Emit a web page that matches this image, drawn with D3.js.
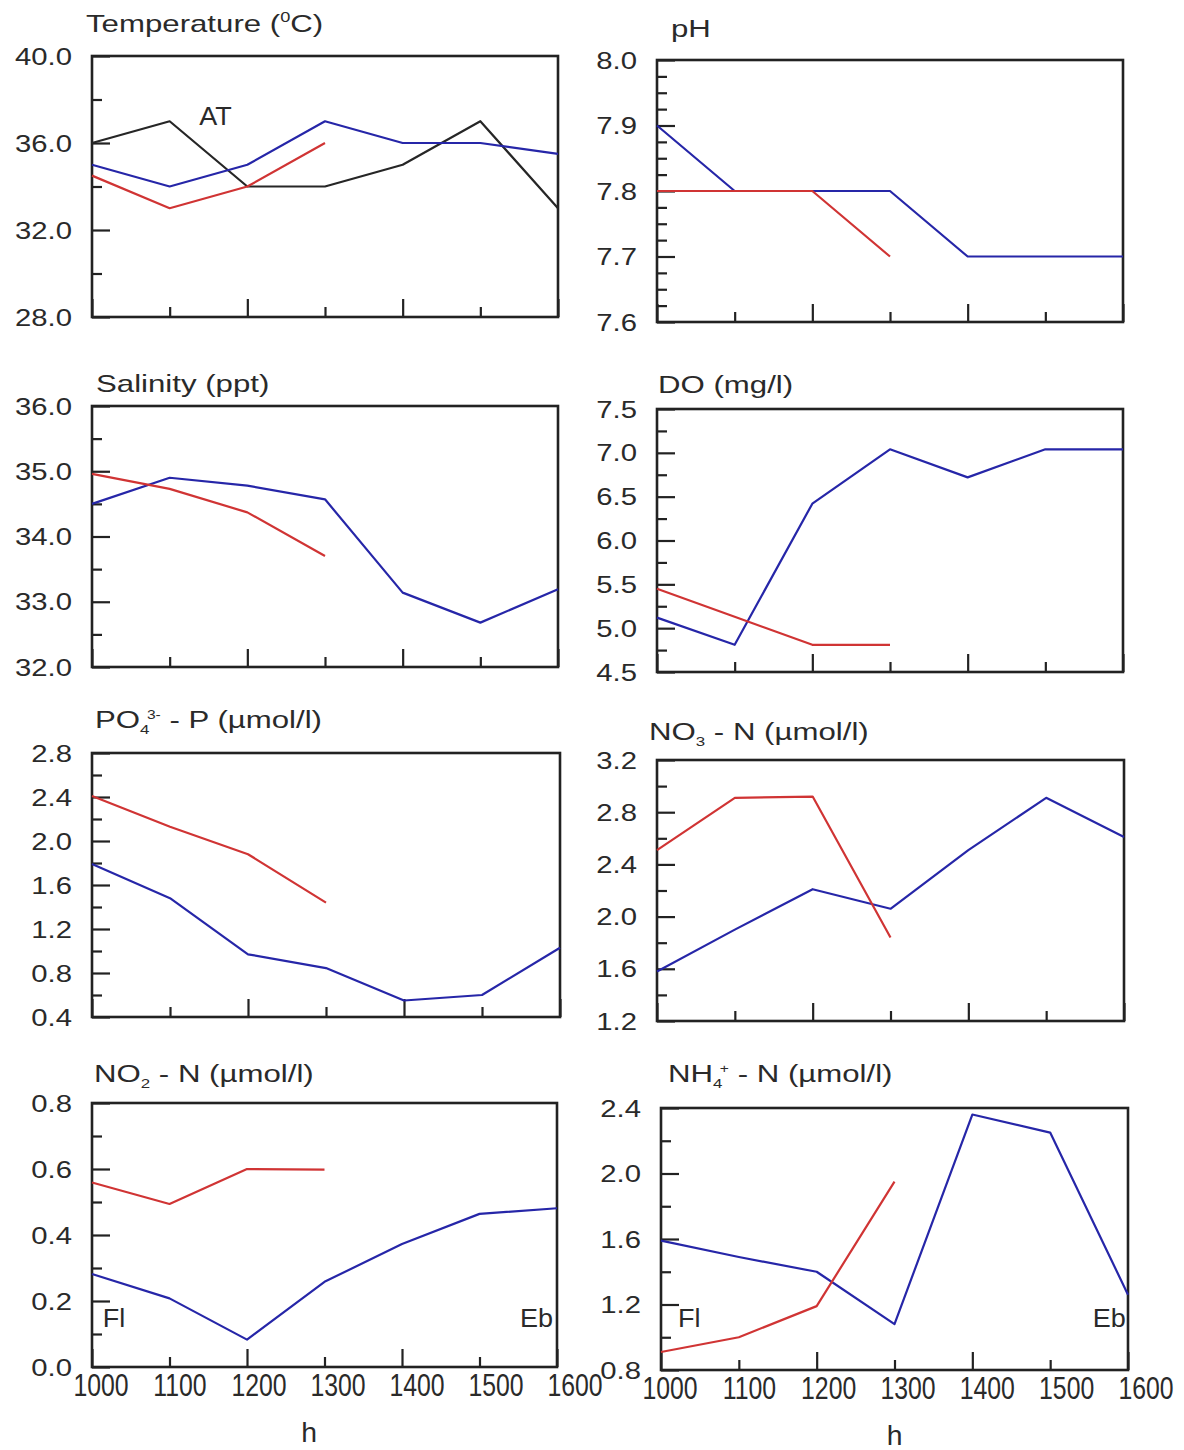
<!DOCTYPE html>
<html>
<head>
<meta charset="utf-8">
<script src="https://cdn.jsdelivr.net/npm/d3@7"></script>
<style>
  body { margin: 0; background: #fff; }
  svg { font-family: "Liberation Sans", Arial, sans-serif; fill: #2a2a2a; }
</style>
</head>
<body>
<svg class="chart"></svg>
<script>
// ------------------------------------------------------------------
// tidal cycle water quality - 8 small panels, 1000h to 1600h
// ------------------------------------------------------------------
const width = 1184
const height = 1450

// data
const hours = [1000, 1100, 1200, 1300, 1400, 1500, 1600]
const hoursRed = [1000, 1100, 1200, 1300]

const tempAT = [36, 37, 34, 34, 35, 37, 33]
const tempBlue = [35, 34, 35, 37, 36, 36, 35.5]
const tempRed = [34.5, 33, 34, 36]

const phBlue = [7.9, 7.8, 7.8, 7.8, 7.7, 7.7, 7.7]
const phRed = [7.8, 7.8, 7.8, 7.7]

const salBlue = [34.5, 34.9, 34.78, 34.57, 33.14, 32.68, 33.19]
const salRed = [34.96, 34.73, 34.37, 33.7]

const doBlue = [5.12, 4.81, 6.42, 7.04, 6.72, 7.04, 7.04]
const doRed = [5.45, 5.13, 4.81, 4.81]

const po4Blue = [1.79, 1.48, 0.97, 0.845, 0.55, 0.6, 1.03]
const po4Red = [2.41, 2.13, 1.88, 1.44]

const no3Blue = [1.58, 1.9, 2.21, 2.06, 2.51, 2.91, 2.61]
const no3Red = [2.51, 2.91, 2.92, 1.84]

const no2Blue = [0.282, 0.208, 0.083, 0.258, 0.373, 0.464, 0.481]
const no2Red = [0.559, 0.494, 0.6, 0.598]

const nh4Blue = [1.59, 1.49, 1.4, 1.08, 2.36, 2.25, 1.26]
const nh4Red = [0.91, 1.0, 1.19, 1.95]

// y axis domains + tick steps [min, max, major, minor]
const yAxes = [
  [28, 40, 4, 2],
  [7.6, 8.0, 0.1, 0.025],
  [32, 36, 1, 0.5],
  [4.5, 7.5, 0.5, 0.25],
  [0.4, 2.8, 0.4, 0.2],
  [1.2, 3.2, 0.4, 0.2],
  [0.0, 0.8, 0.2, 0.1],
  [0.8, 2.4, 0.4, 0.2]
]
const xMajor = [1000, 1200, 1400, 1600]
const xMinor = [1100, 1300, 1500]

// titles as pieces: plain / sub / sup
const titles = [
  [["Temperature (", ""], ["0", "sup"], ["C)", ""]],
  [["pH", ""]],
  [["Salinity (ppt)", ""]],
  [["DO (mg/l)", ""]],
  [["PO", ""], ["4", "sub"], ["3-", "supstack"], [" - P (\u00b5mol/l)", ""]],
  [["NO", ""], ["3", "sub"], ["  - N (\u00b5mol/l)", ""]],
  [["NO", ""], ["2", "sub"], ["  - N (\u00b5mol/l)", ""]],
  [["NH", ""], ["4", "sub"], ["+", "supstack"], [" - N (\u00b5mol/l)", ""]]
]

const series = [
  [{v: tempAT, c: "black"}, {v: tempBlue, c: "blue"}, {v: tempRed, c: "red"}],
  [{v: phBlue, c: "blue"}, {v: phRed, c: "red"}],
  [{v: salBlue, c: "blue"}, {v: salRed, c: "red"}],
  [{v: doBlue, c: "blue"}, {v: doRed, c: "red"}],
  [{v: po4Blue, c: "blue"}, {v: po4Red, c: "red"}],
  [{v: no3Blue, c: "blue"}, {v: no3Red, c: "red"}],
  [{v: no2Blue, c: "blue"}, {v: no2Red, c: "red"}],
  [{v: nh4Blue, c: "blue"}, {v: nh4Red, c: "red"}]
]

// text notes inside panels [panel, text, hour, value, anchor]
const notes = [
  [0, "AT", 1138, 36.85, "start"],
  [6, "Fl", 1014, 0.121, "start"],
  [6, "Eb", 1595, 0.121, "end"],
  [7, "Fl", 1022, 1.063, "start"],
  [7, "Eb", 1597, 1.063, "end"]
]

// panel boxes (left, right, top, bottom) + title baseline
const boxes = [
  {l: 92, r: 558, t: 56, b: 317, tx: 86, ty: 32},
  {l: 657, r: 1123, t: 60, b: 322, tx: 671, ty: 37},
  {l: 92, r: 558, t: 406, b: 667, tx: 96, ty: 392},
  {l: 657, r: 1123, t: 409, b: 672, tx: 658, ty: 393},
  {l: 92, r: 560, t: 753, b: 1017, tx: 95, ty: 728},
  {l: 657, r: 1124, t: 760, b: 1021, tx: 649, ty: 740},
  {l: 92, r: 557, t: 1103, b: 1367, tx: 94, ty: 1082},
  {l: 661, r: 1128, t: 1108, b: 1370, tx: 668, ty: 1082}
]

const colors = {black: "#262626", blue: "#2626a8", red: "#d03434"}

const svg = d3.select("svg.chart")
  .attr("width", width)
  .attr("height", height)
  .attr("viewBox", `0 0 ${width} ${height}`)

// stretched text helper (the original figure is squashed sideways)
function stext(g, x, y, txt, size, sx, anchor) {
  return g.append("text")
    .attr("transform", `translate(${x},${y}) scale(${sx},1)`)
    .attr("text-anchor", anchor || "start")
    .attr("font-size", size)
    .text(txt)
}

function steps(min, max, step) {
  const n = Math.round((max - min) / step)
  return d3.range(n + 1).map(i => +(min + i * step).toFixed(4))
}

// tspan styles: font size, baseline shift, dx
const pieceStyle = {
  "": {size: 24, shift: 0, dx: 0},
  sup: {size: 14, shift: -10, dx: 0},
  sub: {size: 13, shift: 6, dx: 0},
  supstack: {size: 12, shift: -9, dx: -2}
}

boxes.forEach((bx, i) => {
  const g = svg.append("g").attr("class", "panel")
  const [ymin, ymax, major, minor] = yAxes[i]

  const x = d3.scaleLinear().domain([1000, 1600]).range([bx.l, bx.r])
  const y = d3.scaleLinear().domain([ymin, ymax]).range([bx.b, bx.t])

  // minor + major y ticks (inward)
  const yMaj = steps(ymin, ymax, major)
  const yMin = steps(ymin, ymax, minor).filter(v => !yMaj.some(m => Math.abs(m - v) < 1e-6))

  g.append("g")
    .attr("transform", `translate(${bx.l},0)`)
    .call(d3.axisLeft(y).tickValues(yMin).tickSize(-10).tickFormat(""))
  g.append("g")
    .attr("transform", `translate(${bx.l},0)`)
    .call(d3.axisLeft(y).tickValues(yMaj).tickSize(-18).tickFormat(""))

  g.append("g")
    .attr("transform", `translate(0,${bx.b})`)
    .call(d3.axisBottom(x).tickValues(xMinor).tickSize(-10).tickFormat(""))
  g.append("g")
    .attr("transform", `translate(0,${bx.b})`)
    .call(d3.axisBottom(x).tickValues(xMajor).tickSize(-18).tickFormat(""))

  g.selectAll(".domain").remove()
  g.selectAll(".tick line").attr("stroke", "#222").attr("stroke-width", 2.2)

  // frame
  g.append("rect")
    .attr("x", bx.l).attr("y", bx.t)
    .attr("width", bx.r - bx.l).attr("height", bx.b - bx.t)
    .attr("fill", "none")
    .attr("stroke", "#222")
    .attr("stroke-width", 2.6)

  // y labels
  const fmt = d3.format(".1f")
  yMaj.forEach(v => {
    stext(g, bx.l - 20, y(v), fmt(v), 24, 1.22, "end").attr("dy", "0.36em")
  })

  // lines
  const line = d3.line().x(d => x(d[0])).y(d => y(d[1]))
  series[i].forEach(s => {
    const xs = s.v.length === hours.length ? hours : hoursRed
    g.append("path")
      .datum(s.v.map((v, k) => [xs[k], v]))
      .attr("fill", "none")
      .attr("stroke", colors[s.c])
      .attr("stroke-width", 2.2)
      .attr("stroke-linejoin", "round")
      .attr("d", line)
  })

  // title (each piece carries its own dy relative to the last one)
  const t = g.append("text")
    .attr("transform", `translate(${bx.tx},${bx.ty}) scale(1.3,1)`)
    .attr("font-size", 24)
  let cur = 0
  titles[i].forEach(([txt, kind]) => {
    const st = pieceStyle[kind]
    t.append("tspan")
      .attr("font-size", st.size)
      .attr("dx", st.dx)
      .attr("dy", st.shift - cur)
      .text(txt)
    cur = st.shift
  })

  // notes
  notes.filter(n => n[0] === i).forEach(n => {
    stext(g, x(n[2]), y(n[3]), n[1], 25, 1.08, n[4])
  })

  // bottom row: hour labels + h
  if (i >= 6) {
    const xl = d3.scaleLinear().domain([1000, 1600]).range([bx.l + 9, bx.r + 18])
    hours.forEach(h => {
      stext(g, xl(h), bx.b + 29, h, 31, 0.8, "middle")
    })
    stext(g, x(i === 6 ? 1280 : 1300), bx.b + 75, "h", 27, 1.05, "middle")
  }
})
</script>
</body>
</html>
